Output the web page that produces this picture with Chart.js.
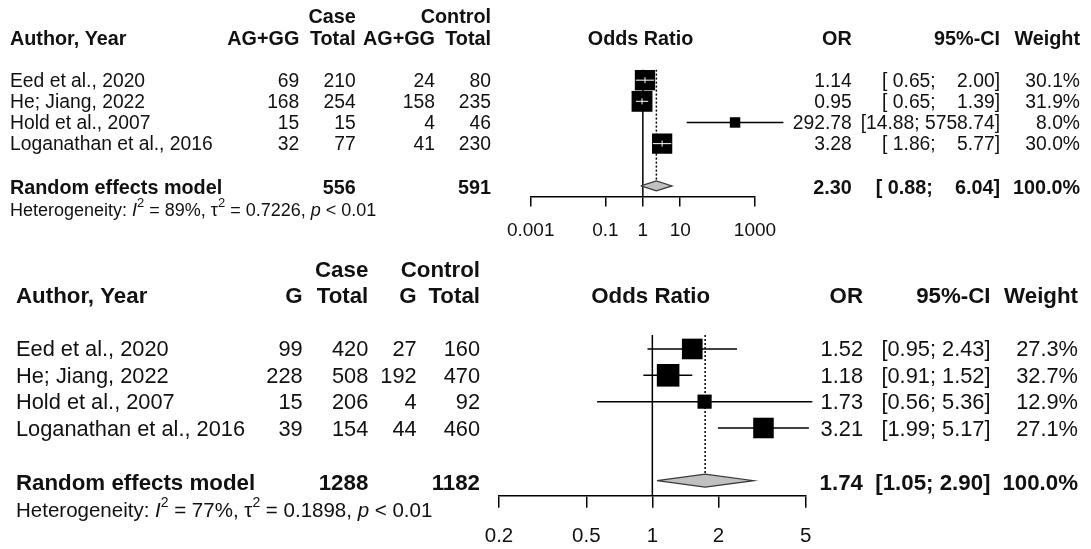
<!DOCTYPE html>
<html>
<head>
<meta charset="utf-8">
<title>Forest plots</title>
<script src="https://cdn.jsdelivr.net/npm/chart.js@4.4.1/dist/chart.umd.min.js"></script>
<style>
  html, body { margin: 0; padding: 0; background: #ffffff; overflow: hidden; width: 1091px; height: 549px; }
  #wrap { position: relative; width: 1091px; height: 549px; overflow: hidden; }
  canvas { position: absolute; left: 0; display: block; }
  #panelA { top: 0; }
  #panelB { top: 245px; }
</style>
</head>
<body>
<div id="wrap">
  <canvas id="panelA" width="1091" height="245"></canvas>
  <canvas id="panelB" width="1091" height="304"></canvas>
</div>
<script>
// ---- Studies ----
const studies = ['Eed et al., 2020', 'He; Jiang, 2022', 'Hold et al., 2007', 'Loganathan et al., 2016'];

// ---- Panel A: AG+GG ----
const aEventLabel = 'AG+GG';
const aCaseEvents = [69, 168, 15, 32];
const aCaseTotal  = [210, 254, 15, 77];
const aCtrlEvents = [24, 158, 4, 41];
const aCtrlTotal  = [80, 235, 46, 230];
const aOR     = [1.14, 0.95, 292.78, 3.28];
const aLower  = [0.65, 0.65, 14.88, 1.86];
const aUpper  = [2.00, 1.39, 5758.74, 5.77];
const aWeight = [30.1, 31.9, 8.0, 30.0];
const aPooled = [2.30, 0.88, 6.04];        // OR, lower, upper
const aPooledN = [556, 591];               // case total, control total
const aHet = ['89%', '0.7226', '0.01'];    // I^2, tau^2, p
const aTicks = [0.001, 0.1, 1, 10, 1000];
const aTickLabels = ['0.001', '0.1', '1', '10', '1000'];

// ---- Panel B: G ----
const bEventLabel = 'G';
const bCaseEvents = [99, 228, 15, 39];
const bCaseTotal  = [420, 508, 206, 154];
const bCtrlEvents = [27, 192, 4, 44];
const bCtrlTotal  = [160, 470, 92, 460];
const bOR     = [1.52, 1.18, 1.73, 3.21];
const bLower  = [0.95, 0.91, 0.56, 1.99];
const bUpper  = [2.43, 1.52, 5.36, 5.17];
const bWeight = [27.3, 32.7, 12.9, 27.1];
const bPooled = [1.74, 1.05, 2.90];
const bPooledN = [1288, 1182];
const bHet = ['77%', '0.1898', '0.01'];
const bTicks = [0.2, 0.5, 1, 2, 5];
const bTickLabels = ['0.2', '0.5', '1', '2', '5'];

const FAMILY = '"Liberation Sans", Arial, Helvetica, sans-serif';
const INK = '#111111';
const W = 1091;

function font(size, weight, style) {
  return `${style || ''} ${weight || ''} ${size}px ${FAMILY}`.trim();
}

function ciText(lo, hi, loW, hiW) {
  return '[' + lo.toFixed(2).padStart(loW) + '; ' + hi.toFixed(2).padStart(hiW) + ']';
}

function drawHet(ctx, x, y, size, het) {
  const base = font(size);
  const ital = font(size, '', 'italic');
  const sup = font(Math.round(size * 0.7));
  const up = -0.42 * size;
  const parts = [
    ['Heterogeneity: ', base, 0],
    ['I', ital, 0],
    ['2', sup, up],
    [' = ' + het[0] + ', ', base, 0],
    ['\u03c4', base, 0],
    ['2', sup, up],
    [' = ' + het[1] + ', ', base, 0],
    ['p', ital, 0],
    [' < ' + het[2], base, 0]
  ];
  ctx.textAlign = 'left';
  for (const [t, f, dy] of parts) {
    ctx.font = f;
    ctx.fillText(t, x, y + dy);
    x += ctx.measureText(t).width;
  }
}

function makePanel(canvasId, d, L) {
  const n = d.or.length;
  const rows = d.or.map((_, i) => i + 1);
  const sumRow = n + 2;
  const boxSide = d.weight.map(w => L.boxScale * Math.sqrt(w));
  const [pe, plo, phi] = d.pooled;
  const axisH = L.H - L.bottom;

  const datasets = [];
  // line of no effect
  datasets.push({
    type: 'line', data: [{ x: 1, y: L.yMin }, { x: 1, y: L.yMax }],
    borderColor: '#000', borderWidth: L.lw, pointRadius: 0, order: 6
  });
  // pooled estimate reference (dotted)
  datasets.push({
    type: 'line', data: [{ x: pe, y: L.yMin }, { x: pe, y: sumRow }],
    borderColor: '#000', borderWidth: L.lw, borderDash: [2, 2], pointRadius: 0, order: 5
  });
  // study confidence intervals
  d.or.forEach((v, i) => {
    datasets.push({
      type: 'line', data: [{ x: d.lower[i], y: rows[i] }, { x: d.upper[i], y: rows[i] }],
      borderColor: '#000', borderWidth: L.lw, pointRadius: 0, clip: false, order: 4
    });
  });
  // pooled diamond
  datasets.push({
    type: 'line',
    data: [
      { x: plo, y: sumRow }, { x: pe, y: sumRow - L.dia }, { x: phi, y: sumRow },
      { x: pe, y: sumRow + L.dia }, { x: plo, y: sumRow }
    ],
    borderColor: '#3a3a3a', borderWidth: 1.2, backgroundColor: '#c0c0c0',
    fill: 'shape', tension: 0, pointRadius: 0, order: 3
  });
  // study boxes, area proportional to weight
  datasets.push({
    type: 'scatter', data: d.or.map((v, i) => ({ x: v, y: rows[i] })),
    pointStyle: 'rect', pointRadius: boxSide.map(s => s / Math.SQRT2),
    backgroundColor: '#000', borderWidth: 0, clip: false, order: 2
  });

  // CI drawn in white where it lies inside the box
  const innerCI = {
    id: 'innerCI',
    afterDatasetsDraw(chart) {
      const x = chart.scales.x, y = chart.scales.y, ctx = chart.ctx;
      ctx.save();
      ctx.strokeStyle = '#ffffff';
      ctx.lineWidth = 1;
      d.or.forEach((v, i) => {
        const x0 = x.getPixelForValue(d.lower[i]);
        const x1 = x.getPixelForValue(d.upper[i]);
        const xc = x.getPixelForValue(v);
        const yc = y.getPixelForValue(rows[i]);
        if (x1 - x0 <= boxSide[i]) {
          ctx.beginPath();
          ctx.moveTo(x0, yc); ctx.lineTo(x1, yc);
          ctx.moveTo(xc, yc - 3); ctx.lineTo(xc, yc + 3);
          ctx.stroke();
        }
      });
      ctx.restore();
    }
  };

  // table columns
  const loW = Math.max(...d.lower.concat([plo]).map(v => v.toFixed(2).length));
  const hiW = Math.max(...d.upper.concat([phi]).map(v => v.toFixed(2).length));
  const table = {
    id: 'table',
    afterDraw(chart) {
      const ctx = chart.ctx, y = chart.scales.y, C = L.cols;
      ctx.save();
      ctx.fillStyle = INK;
      ctx.textBaseline = 'middle';
      const put = (s, x, yy, align, f) => { ctx.font = f; ctx.textAlign = align; ctx.fillText(String(s), x, yy); };
      const bold = font(L.boldFont, 'bold');
      const reg = font(L.font);
      // headers
      put('Case', C.ct, L.hy1, 'right', bold);
      put('Control', C.ot, L.hy1, 'right', bold);
      put('Author, Year', C.author, L.hy2, 'left', bold);
      put(d.eventLabel, C.ce, L.hy2, 'right', bold);
      put('Total', C.ct, L.hy2, 'right', bold);
      put(d.eventLabel, C.oe, L.hy2, 'right', bold);
      put('Total', C.ot, L.hy2, 'right', bold);
      put('Odds Ratio', L.titleX, L.hy2, 'center', bold);
      put('OR', C.or, L.hy2, 'right', bold);
      put('95%-CI', C.ci, L.hy2, 'right', bold);
      put('Weight', C.w, L.hy2, 'right', bold);
      // study rows
      studies.forEach((s, i) => {
        const yy = y.getPixelForValue(rows[i]) + L.rowDy;
        put(s, C.author, yy, 'left', reg);
        put(d.caseEvents[i], C.ce, yy, 'right', reg);
        put(d.caseTotal[i], C.ct, yy, 'right', reg);
        put(d.ctrlEvents[i], C.oe, yy, 'right', reg);
        put(d.ctrlTotal[i], C.ot, yy, 'right', reg);
        put(d.or[i].toFixed(2), C.or, yy, 'right', reg);
        put(ciText(d.lower[i], d.upper[i], loW, hiW), C.ci, yy, 'right', reg);
        put(d.weight[i].toFixed(1) + '%', C.w, yy, 'right', reg);
      });
      // pooled row
      const ys = y.getPixelForValue(sumRow) + L.sumDy;
      put('Random effects model', C.author, ys, 'left', bold);
      put(d.pooledN[0], C.ct, ys, 'right', bold);
      put(d.pooledN[1], C.ot, ys, 'right', bold);
      put(pe.toFixed(2), C.or, ys, 'right', bold);
      put(ciText(plo, phi, loW, hiW), C.ci, ys, 'right', bold);
      put('100.0%', C.w, ys, 'right', bold);
      drawHet(ctx, C.author, L.hetY, L.hetFont, d.het);
      ctx.restore();
    }
  };

  return new Chart(document.getElementById(canvasId), {
    type: 'scatter',
    data: { datasets },
    plugins: [innerCI, table],
    options: {
      responsive: false,
      animation: false,
      events: [],
      layout: { padding: { left: L.left, right: W - L.right, top: L.top, bottom: 0 } },
      plugins: { legend: { display: false }, tooltip: { enabled: false } },
      scales: {
        x: {
          type: 'logarithmic', position: 'bottom',
          min: d.ticks[0], max: d.ticks[d.ticks.length - 1],
          afterBuildTicks: s => { s.ticks = d.ticks.map(v => ({ value: v })); },
          afterFit: s => { s.height = axisH; },
          ticks: {
            autoSkip: false, maxRotation: 0, color: INK, padding: L.tickPad,
            font: { size: L.tickFont, family: FAMILY },
            callback: (v, i) => d.tickLabels[i]
          },
          grid: { display: true, drawOnChartArea: false, drawTicks: true, tickLength: L.tickLen, color: '#000', lineWidth: L.lw },
          border: { display: true, color: '#000', width: L.lw }
        },
        y: { type: 'linear', min: L.yMin, max: L.yMax, reverse: true, display: false }
      }
    }
  });
}

makePanel('panelA', {
  eventLabel: aEventLabel, caseEvents: aCaseEvents, caseTotal: aCaseTotal,
  ctrlEvents: aCtrlEvents, ctrlTotal: aCtrlTotal, or: aOR, lower: aLower, upper: aUpper,
  weight: aWeight, pooled: aPooled, pooledN: aPooledN, het: aHet, ticks: aTicks, tickLabels: aTickLabels
}, {
  H: 245, left: 530.7, right: 755, top: 69.6, bottom: 196.5, yMin: 0.5, yMax: 6.5,
  tickLen: 10, tickPad: 13, tickFont: 19, font: 19.3, boldFont: 19.8, hetFont: 18, lw: 1.5,
  boxScale: 3.7, dia: 0.236,
  cols: { author: 10, ce: 299.3, ct: 355.7, oe: 435, ot: 491, or: 851.7, ci: 1000, w: 1080 },
  hy1: 18, hy2: 39.5, titleX: 640.5, rowDy: 1.5, sumDy: 2.5, hetY: 211
});

makePanel('panelB', {
  eventLabel: bEventLabel, caseEvents: bCaseEvents, caseTotal: bCaseTotal,
  ctrlEvents: bCtrlEvents, ctrlTotal: bCtrlTotal, or: bOR, lower: bLower, upper: bUpper,
  weight: bWeight, pooled: bPooled, pooledN: bPooledN, het: bHet, ticks: bTicks, tickLabels: bTickLabels
}, {
  H: 304, left: 499, right: 805.7, top: 90, bottom: 250.7, yMin: 0.47, yMax: 6.57,
  tickLen: 12, tickPad: 16, tickFont: 20.5, font: 21.8, boldFont: 22.3, hetFont: 20.5, lw: 1.5,
  boxScale: 3.95, dia: 0.247,
  cols: { author: 16, ce: 302.7, ct: 368.3, oe: 416.7, ot: 480, or: 863, ci: 990.5, w: 1078 },
  hy1: 25.7, hy2: 51.7, titleX: 650.7, rowDy: 1.5, sumDy: 3.2, hetY: 266.7
});
</script>
</body>
</html>
